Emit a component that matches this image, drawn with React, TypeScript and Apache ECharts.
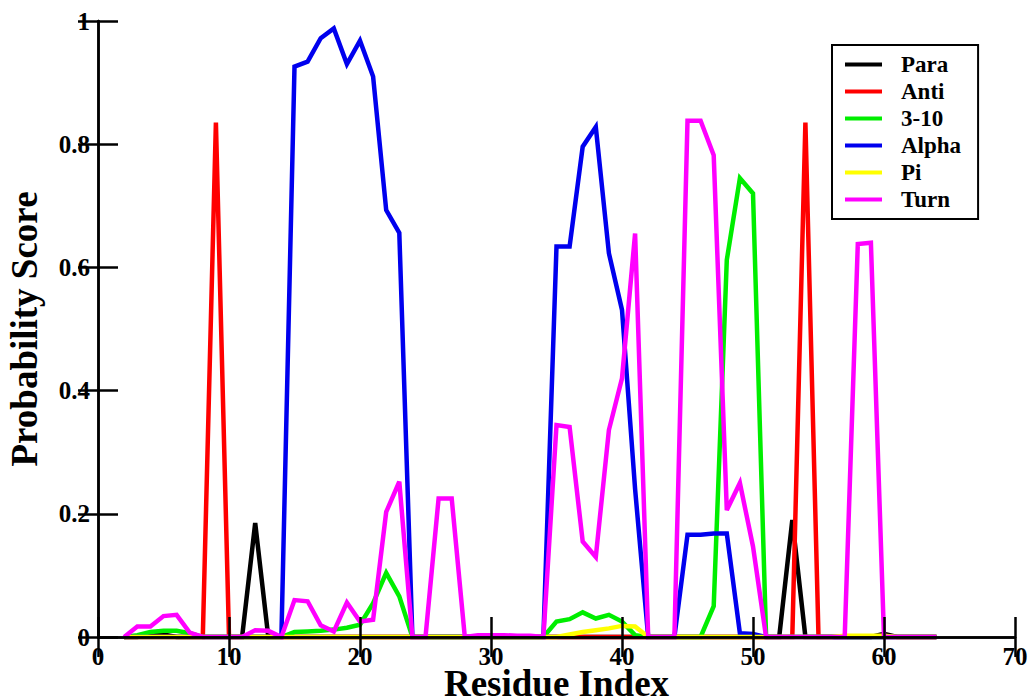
import React, { useEffect, useRef } from "react";
import * as echarts from "echarts";

const residues = [2, 3, 4, 5, 6, 7, 8, 9, 10, 11, 12, 13, 14, 15, 16, 17, 18, 19, 20, 21, 22, 23, 24, 25, 26, 27, 28, 29, 30, 31, 32, 33, 34, 35, 36, 37, 38, 39, 40, 41, 42, 43, 44, 45, 46, 47, 48, 49, 50, 51, 52, 53, 54, 55, 56, 57, 58, 59, 60, 61, 62, 63, 64];

const para = [0, 0, 0.004, 0.004, 0, 0, 0, 0, 0, 0, 0.185, 0, 0, 0, 0, 0, 0, 0, 0, 0, 0, 0, 0, 0, 0, 0, 0, 0, 0, 0, 0, 0, 0, 0, 0, 0, 0, 0, 0, 0, 0, 0, 0, 0, 0, 0, 0, 0, 0, 0, 0, 0.19, 0, 0, 0, 0, 0, 0, 0.005, 0, 0, 0, 0];
const anti = [0, 0, 0, 0, 0, 0, 0, 0.835, 0, 0, 0, 0, 0, 0, 0, 0, 0, 0, 0, 0, 0, 0, 0, 0, 0, 0, 0, 0, 0, 0, 0, 0, 0, 0, 0, 0, 0, 0, 0, 0, 0, 0, 0, 0, 0, 0, 0, 0, 0, 0, 0, 0, 0.835, 0, 0, 0, 0, 0, 0, 0, 0, 0, 0];
const helix310 = [0, 0.003, 0.008, 0.01, 0.01, 0.006, 0, 0, 0, 0, 0, 0, 0, 0.008, 0.009, 0.01, 0.012, 0.015, 0.02, 0.055, 0.104, 0.066, 0, 0, 0, 0, 0, 0, 0, 0, 0, 0, 0, 0.025, 0.029, 0.04, 0.03, 0.036, 0.025, 0.003, 0, 0, 0, 0, 0, 0.05, 0.612, 0.745, 0.72, 0, 0, 0, 0, 0, 0, 0, 0, 0, 0, 0, 0, 0, 0];
const alpha = [0, 0, 0, 0, 0, 0, 0, 0, 0, 0, 0, 0, 0, 0.926, 0.934, 0.972, 0.988, 0.93, 0.968, 0.91, 0.693, 0.656, 0, 0, 0, 0, 0, 0, 0, 0, 0, 0, 0, 0.634, 0.634, 0.796, 0.828, 0.623, 0.531, 0.24, 0, 0, 0, 0.166, 0.166, 0.168, 0.168, 0.006, 0.005, 0, 0, 0, 0, 0, 0, 0, 0, 0, 0, 0, 0, 0, 0];
const pi = [0, 0, 0, 0, 0, 0, 0, 0, 0, 0, 0, 0, 0, 0, 0, 0, 0, 0, 0, 0, 0, 0, 0, 0, 0, 0, 0, 0, 0, 0, 0, 0, 0, 0, 0.004, 0.008, 0.011, 0.014, 0.018, 0.017, 0, 0, 0, 0, 0, 0, 0, 0, 0, 0, 0, 0, 0, 0, 0, 0.002, 0.002, 0.002, 0.002, 0, 0, 0, 0];
const turn = [0, 0.017, 0.017, 0.034, 0.036, 0.007, 0, 0, 0, 0, 0.011, 0.01, 0, 0.06, 0.058, 0.019, 0.009, 0.056, 0.025, 0.028, 0.203, 0.252, 0, 0, 0.225, 0.225, 0, 0.003, 0.003, 0.003, 0.002, 0.002, 0, 0.344, 0.341, 0.155, 0.13, 0.336, 0.42, 0.655, 0, 0, 0, 0.838, 0.838, 0.782, 0.206, 0.25, 0.147, 0, 0, 0, 0, 0, 0, 0, 0.638, 0.64, 0, 0, 0, 0, 0];

const seriesNames = ["Para", "Anti", "3-10", "Alpha", "Pi", "Turn"];
const seriesValues = [para, anti, helix310, alpha, pi, turn];
const seriesColors = ["#000000", "#ff0000", "#00ee00", "#0000ee", "#ffff00", "#ff00ff"];

const xTicks = { min: 0, max: 70, interval: 10 };
const yTicks = { min: 0, max: 1, interval: 0.2 };

const FONT = "'Liberation Serif', 'Times New Roman', serif";

export default function App() {
  const ref = useRef<HTMLDivElement>(null);

  useEffect(() => {
    document.body.style.margin = "0";
    document.body.style.overflow = "hidden";
    document.documentElement.style.overflow = "hidden";
    if (!ref.current) return;
    const chart = echarts.init(ref.current, undefined, { renderer: "svg" });

    const axisLine = { show: true, lineStyle: { color: "#000", width: 2.5 } };
    const axisTick = { show: true, inside: true, length: 20, lineStyle: { color: "#000", width: 2.5 } };
    const labelStyle = { color: "#000", fontFamily: FONT, fontWeight: "bold" as const, fontSize: 25, lineHeight: 22 };
    const yFmt = (v: number) => (v === 0 ? "0" : v === 1 ? "1" : v.toFixed(1));
    const nameStyle = { color: "#000", fontFamily: FONT, fontWeight: "bold" as const, fontSize: 37 };

    chart.setOption({
      animation: false,
      backgroundColor: "#ffffff",
      grid: { left: 98, right: 18, top: 21, bottom: 63, containLabel: false, outerBoundsMode: "none" },
      legend: {
        orient: "vertical",
        left: 832,
        top: 45,
        data: seriesNames,
        icon: "rect",
        itemWidth: 37,
        itemHeight: 4,
        itemGap: 4,
        borderColor: "#000",
        borderWidth: 2,
        borderRadius: 0,
        padding: [8, 17, 8, 13],
        backgroundColor: "#fff",
        textStyle: { color: "#000", fontFamily: FONT, fontWeight: "bold", fontSize: 23, lineHeight: 22, padding: [0, 0, 0, 14] },
      },
      xAxis: [
        {
          type: "value", min: xTicks.min, max: xTicks.max, interval: xTicks.interval,
          name: "Residue Index", nameLocation: "middle", nameGap: 33, nameMoveOverlap: false,
          nameTextStyle: { ...nameStyle, lineHeight: 26 },
          axisLine, axisTick, axisLabel: { ...labelStyle, margin: 8 }, splitLine: { show: false }, z: 10,
        },
        {
          type: "value", position: "top", min: xTicks.min, max: xTicks.max, interval: xTicks.interval,
          axisLine, axisTick, axisLabel: { show: false }, splitLine: { show: false }, z: 10,
        },
      ],
      yAxis: [
        {
          type: "value", min: yTicks.min, max: yTicks.max, interval: yTicks.interval,
          name: "Probability Score", nameLocation: "middle", nameGap: 55, nameRotate: 90, nameMoveOverlap: false,
          nameTextStyle: nameStyle,
          axisLine, axisTick, axisLabel: { ...labelStyle, margin: 8, formatter: yFmt }, splitLine: { show: false }, z: 10,
        },
        {
          type: "value", position: "right", min: yTicks.min, max: yTicks.max, interval: yTicks.interval,
          axisLine, axisTick, axisLabel: { show: false }, splitLine: { show: false }, z: 10,
        },
      ],
      series: seriesNames.map((name, k) => ({
        name, type: "line", showSymbol: false, symbol: "none", clip: false, color: seriesColors[k],
        lineStyle: { color: seriesColors[k], width: 4.5, join: "miter", miterLimit: 10 },
        data: residues.map((r, i) => [r, seriesValues[k][i]]),
        z: 2 + k,
      })),
    });

    return () => chart.dispose();
  }, []);

  return <div ref={ref} style={{ width: 1033, height: 700, background: "#fff" }} />;
}
